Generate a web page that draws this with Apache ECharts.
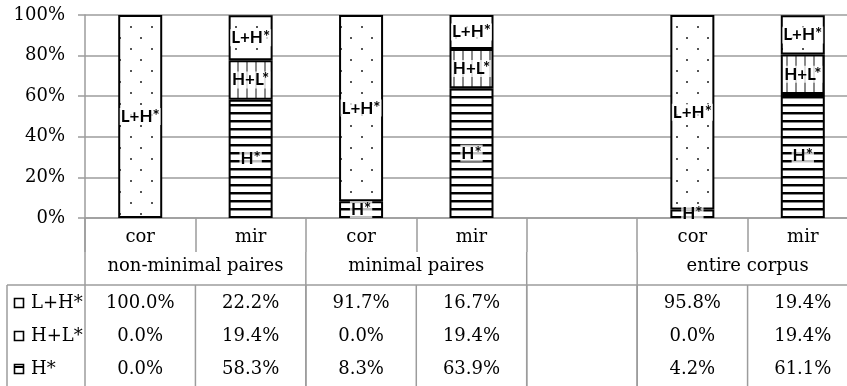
<!DOCTYPE html>
<html><head><meta charset="utf-8">
<script src="https://cdn.jsdelivr.net/npm/echarts@6/dist/echarts.min.js"></script>
<style>html,body{margin:0;padding:0;background:#fff}#c{width:847px;height:386px}</style>
</head><body><div id="c"></div>
<script>
const categories = ['cor','mir','cor','mir','','cor','mir'];
const groupNames = ['non-minimal paires','minimal paires','','entire corpus'];
const groupSpans = [2,2,1,2];
const seriesNames = ['L+H*','H+L*','H*'];
const valLH = [100.0, 22.2, 91.7, 16.7, null, 95.8, 19.4];
const valHL = [0.0, 19.4, 0.0, 19.4, null, 0.0, 19.4];
const valH  = [0.0, 58.3, 8.3, 63.9, null, 4.2, 61.1];
const yTicks = [0, 20, 40, 60, 80, 100];

function makePattern(kind){
  const c = document.createElement('canvas');
  let ctx;
  if(kind==='dots'){
    c.width=21;c.height=22;ctx=c.getContext('2d');
    ctx.fillStyle='#fff';ctx.fillRect(0,0,21,22);
    ctx.fillStyle='#555';ctx.fillRect(4,4,2,2);ctx.fillRect(14,15,2,2);
  } else if(kind==='vlines'){
    c.width=9;c.height=4;ctx=c.getContext('2d');
    ctx.fillStyle='#fff';ctx.fillRect(0,0,9,4);
    ctx.fillStyle='#8a8a8a';ctx.fillRect(3,0,2,4);
  } else {
    c.width=4;c.height=8;ctx=c.getContext('2d');
    ctx.fillStyle='#fff';ctx.fillRect(0,0,4,8);
    ctx.fillStyle='#000';ctx.fillRect(0,0,4,2);
    ctx.fillStyle='#888';ctx.fillRect(0,2,4,1);
  }
  return c;
}
const pats = {dots:makePattern('dots'), vlines:makePattern('vlines'), hlines:makePattern('hlines')};

const serif = '"DejaVu Serif", serif';
const gridCol = '#9c9c9c';

function mkSeries(name, vals, pat){
  return {
    name, type:'bar', stack:'s', barWidth:44,
    data: vals.map(v => (v > 0 ? v : {value:v, itemStyle:{borderWidth:0}})),
    itemStyle:{color:{image:pats[pat], repeat:'repeat'}, borderColor:'#000', borderWidth:2},
    label:{show:true, position:'inside',
      formatter:p=> (p.value>0 ? name : ''),
      fontFamily:'Lato', fontWeight:'bold', fontSize:17, color:'#000',
      backgroundColor:'rgba(255,255,255,0.75)', padding:[0,1]},
    emphasis:{disabled:true}
  };
}

const chart = echarts.init(document.getElementById('c'), null, {renderer:'canvas'});
chart.setOption({
  animation:false,
  grid:{left:85, top:15, width:773, height:203, containLabel:false, outerBoundsMode:'none'},
  xAxis:{type:'category', data:categories.map((c,i)=>i),
    axisLine:{lineStyle:{color:gridCol, width:1.5}},
    axisTick:{show:true, interval:0, length:34, lineStyle:{color:gridCol, width:1.5}},
    axisLabel:{interval:0, margin:9, lineHeight:20, formatter:(v,i)=>categories[i],
      fontFamily:serif, fontSize:18, color:'#000'}
  },
  yAxis:{type:'value', min:yTicks[0], max:yTicks[yTicks.length-1], interval:20,
    axisLine:{show:true, lineStyle:{color:gridCol, width:1.5}},
    axisTick:{show:true, length:7, lineStyle:{color:gridCol, width:1.5}},
    splitLine:{lineStyle:{color:gridCol, width:1.5}},
    axisLabel:{formatter:'{value}%', margin:20, fontFamily:serif, fontSize:18, color:'#000'}
  },
  series:[ mkSeries('H*', valH, 'hlines'), mkSeries('H+L*', valHL, 'vlines'), mkSeries('L+H*', valLH, 'dots') ]
});

// Table built from axis scale positions
const x0 = chart.convertToPixel({xAxisIndex:0}, 0);
const x1 = chart.convertToPixel({xAxisIndex:0}, 1);
const colW = x1 - x0;
const left = x0 - colW/2;
const yAxisBottom = chart.convertToPixel({yAxisIndex:0}, 0);
const H = 386, W = 847;
const tableTop = 285;
const rowY = [303, 336, 369];
const groupY = 266;
const g = [];
function line(xa,ya,xb,yb){ g.push({type:'line', shape:{x1:xa,y1:ya,x2:xb,y2:yb}, style:{stroke:gridCol, lineWidth:1.5}, silent:true}); }
function text(t,x,y,align){ g.push({type:'text', x, y, style:{text:t, fill:'#000', font:'18px '+serif, align:align||'center', verticalAlign:'middle'}, silent:true}); }

let k=0;
groupNames.forEach((name,gi)=>{
  const a = left + k*colW, b = left + (k+groupSpans[gi])*colW;
  if(name) text(name, (a+b)/2, groupY);
  line(b, yAxisBottom+34, b, H);
  k += groupSpans[gi];
});
line(left, yAxisBottom, left, H);
for(let i=1;i<categories.length;i++) line(left+i*colW, tableTop, left+i*colW, H);
line(7, tableTop, W, tableTop);
line(7, tableTop, 7, H);
const rowVals = [valLH, valHL, valH];
const keyPat = [null, null, 'h'];
seriesNames.forEach((nm,r)=>{
  const y = rowY[r];
  g.push({type:'rect', shape:{x:14.5,y:y-4.5,width:9,height:9}, style:{fill:'#fff', stroke:'#000', lineWidth:1.6}, silent:true});
  if(keyPat[r]) g.push({type:'rect', shape:{x:15,y:y-3,width:8,height:2}, style:{fill:'#000'}, silent:true});
  text(nm, 31, y, 'left');
  rowVals[r].forEach((v,i)=>{
    if(v===null || v===undefined) return;
    text(v.toFixed(1)+'%', chart.convertToPixel({xAxisIndex:0}, i), y);
  });
});
chart.setOption({graphic:g});
</script></body></html>
